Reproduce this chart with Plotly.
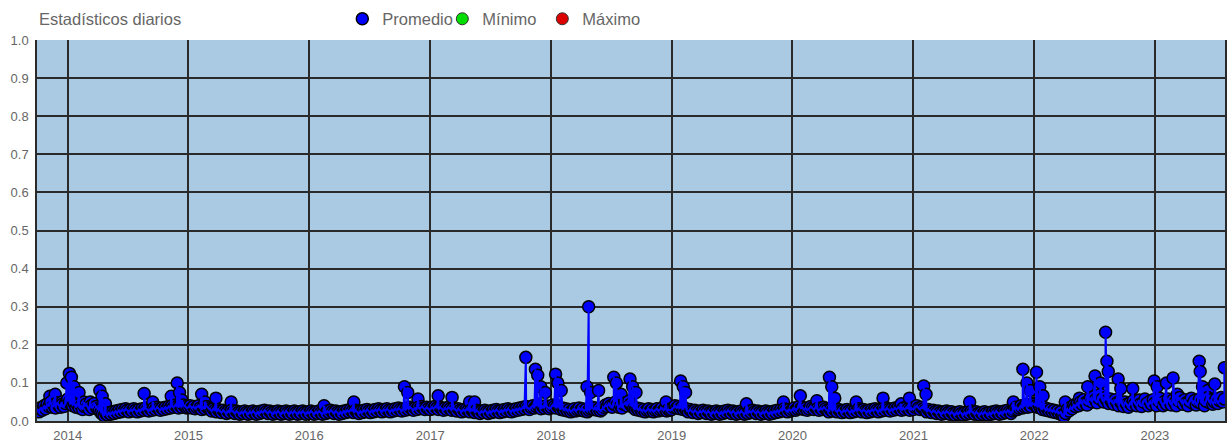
import pandas as pd
import plotly.graph_objects as go

# Daily average read every 5 days, one list per year
base_2013 = [0.030, 0.024, 0.035, 0.028, 0.040, 0.032, 0.045, 0.038, 0.050, 0.036,
             0.042, 0.034, 0.048, 0.040, 0.036, 0.044, 0.038, 0.046, 0.052]
base_2014 = [0.058, 0.050, 0.044, 0.040, 0.046, 0.036, 0.042, 0.034, 0.040, 0.030, 0.038, 0.044,
             0.036, 0.030, 0.040, 0.034, 0.046, 0.038, 0.032, 0.028, 0.022, 0.018, 0.014, 0.020,
             0.016, 0.022, 0.018, 0.024, 0.020, 0.026, 0.022, 0.028, 0.024, 0.030, 0.026, 0.032,
             0.028, 0.024, 0.030, 0.026, 0.032, 0.028, 0.024, 0.030, 0.026, 0.032, 0.028, 0.034,
             0.030, 0.026, 0.032, 0.028, 0.034, 0.030, 0.036, 0.032, 0.028, 0.034, 0.030, 0.036,
             0.032, 0.038, 0.034, 0.040, 0.036, 0.042, 0.038, 0.034, 0.040, 0.036, 0.042, 0.038,
             0.034]
base_2015 = [0.036, 0.040, 0.034, 0.038, 0.032, 0.036, 0.040, 0.034, 0.030, 0.036, 0.032, 0.038,
             0.034, 0.030, 0.026, 0.032, 0.028, 0.024, 0.030, 0.026, 0.022, 0.028, 0.024, 0.020,
             0.026, 0.022, 0.028, 0.024, 0.020, 0.026, 0.022, 0.018, 0.024, 0.020, 0.026, 0.022,
             0.018, 0.024, 0.020, 0.026, 0.022, 0.018, 0.024, 0.020, 0.026, 0.022, 0.028, 0.024,
             0.020, 0.026, 0.022, 0.018, 0.024, 0.020, 0.026, 0.022, 0.018, 0.024, 0.020, 0.026,
             0.022, 0.018, 0.024, 0.020, 0.026, 0.022, 0.018, 0.024, 0.020, 0.026, 0.022, 0.018,
             0.024]
base_2016 = [0.020, 0.026, 0.022, 0.018, 0.024, 0.020, 0.026, 0.022, 0.018, 0.024, 0.020, 0.026,
             0.022, 0.028, 0.024, 0.020, 0.026, 0.022, 0.018, 0.024, 0.020, 0.026, 0.022, 0.028,
             0.024, 0.030, 0.026, 0.022, 0.028, 0.024, 0.020, 0.026, 0.022, 0.028, 0.024, 0.030,
             0.026, 0.022, 0.028, 0.024, 0.030, 0.026, 0.032, 0.028, 0.024, 0.030, 0.026, 0.032,
             0.028, 0.024, 0.030, 0.026, 0.032, 0.028, 0.034, 0.030, 0.026, 0.032, 0.028, 0.034,
             0.030, 0.036, 0.032, 0.028, 0.034, 0.030, 0.036, 0.032, 0.038, 0.034, 0.030, 0.036,
             0.032]
base_2017 = [0.030, 0.036, 0.032, 0.038, 0.034, 0.030, 0.036, 0.032, 0.028, 0.034, 0.030, 0.036,
             0.032, 0.028, 0.034, 0.030, 0.026, 0.032, 0.028, 0.024, 0.030, 0.026, 0.032, 0.028,
             0.024, 0.030, 0.026, 0.022, 0.028, 0.024, 0.020, 0.026, 0.022, 0.028, 0.024, 0.020,
             0.026, 0.022, 0.028, 0.024, 0.030, 0.026, 0.022, 0.028, 0.024, 0.030, 0.026, 0.032,
             0.028, 0.024, 0.030, 0.026, 0.032, 0.028, 0.034, 0.030, 0.036, 0.032, 0.038, 0.034,
             0.030, 0.036, 0.040, 0.034, 0.038, 0.044, 0.036, 0.032, 0.038, 0.034, 0.040, 0.036,
             0.032]
base_2018 = [0.036, 0.042, 0.038, 0.034, 0.040, 0.036, 0.030, 0.034, 0.028, 0.032, 0.026, 0.030,
             0.024, 0.028, 0.032, 0.026, 0.030, 0.034, 0.028, 0.032, 0.026, 0.030, 0.024, 0.028,
             0.032, 0.036, 0.030, 0.034, 0.028, 0.032, 0.026, 0.030, 0.036, 0.042, 0.038, 0.046,
             0.040, 0.036, 0.044, 0.050, 0.042, 0.036, 0.040, 0.034, 0.044, 0.048, 0.040, 0.052,
             0.044, 0.038, 0.034, 0.030, 0.034, 0.028, 0.032, 0.026, 0.030, 0.024, 0.028, 0.032,
             0.026, 0.030, 0.024, 0.028, 0.032, 0.026, 0.030, 0.034, 0.028, 0.032, 0.026, 0.030,
             0.028]
base_2019 = [0.030, 0.036, 0.040, 0.034, 0.038, 0.032, 0.036, 0.030, 0.034, 0.028, 0.024, 0.030,
             0.026, 0.022, 0.028, 0.024, 0.020, 0.026, 0.022, 0.028, 0.024, 0.020, 0.026, 0.022,
             0.018, 0.024, 0.020, 0.026, 0.022, 0.018, 0.024, 0.020, 0.026, 0.022, 0.028, 0.024,
             0.020, 0.026, 0.022, 0.018, 0.024, 0.020, 0.026, 0.022, 0.018, 0.024, 0.020, 0.026,
             0.022, 0.028, 0.024, 0.020, 0.026, 0.022, 0.018, 0.024, 0.020, 0.026, 0.022, 0.018,
             0.024, 0.020, 0.026, 0.022, 0.028, 0.024, 0.030, 0.026, 0.032, 0.028, 0.024, 0.030,
             0.026]
base_2020 = [0.030, 0.034, 0.028, 0.032, 0.038, 0.032, 0.036, 0.030, 0.034, 0.028, 0.032, 0.038,
             0.034, 0.030, 0.036, 0.032, 0.028, 0.034, 0.030, 0.036, 0.032, 0.028, 0.024, 0.030,
             0.026, 0.032, 0.028, 0.024, 0.030, 0.026, 0.022, 0.028, 0.024, 0.030, 0.026, 0.022,
             0.028, 0.024, 0.030, 0.026, 0.032, 0.028, 0.024, 0.030, 0.026, 0.022, 0.028, 0.024,
             0.030, 0.026, 0.032, 0.028, 0.024, 0.030, 0.026, 0.032, 0.028, 0.034, 0.030, 0.026,
             0.032, 0.028, 0.034, 0.030, 0.036, 0.032, 0.028, 0.034, 0.030, 0.036, 0.032, 0.028,
             0.034]
base_2021 = [0.030, 0.036, 0.040, 0.034, 0.030, 0.036, 0.032, 0.028, 0.024, 0.030, 0.026, 0.022,
             0.028, 0.024, 0.020, 0.026, 0.022, 0.018, 0.024, 0.020, 0.026, 0.022, 0.018, 0.024,
             0.020, 0.016, 0.022, 0.018, 0.024, 0.020, 0.016, 0.022, 0.018, 0.024, 0.020, 0.026,
             0.022, 0.018, 0.024, 0.020, 0.016, 0.022, 0.018, 0.024, 0.020, 0.016, 0.022, 0.018,
             0.024, 0.020, 0.026, 0.022, 0.018, 0.024, 0.020, 0.026, 0.022, 0.028, 0.024, 0.020,
             0.026, 0.030, 0.036, 0.030, 0.034, 0.040, 0.034, 0.038, 0.044, 0.036, 0.042, 0.038,
             0.046]
base_2022 = [0.044, 0.040, 0.036, 0.042, 0.034, 0.030, 0.036, 0.028, 0.032, 0.026, 0.030, 0.024,
             0.028, 0.022, 0.026, 0.020, 0.024, 0.016, 0.012, 0.020, 0.030, 0.026, 0.036, 0.032,
             0.042, 0.038, 0.046, 0.040, 0.050, 0.044, 0.056, 0.048, 0.042, 0.054, 0.060, 0.050,
             0.064, 0.056, 0.048, 0.060, 0.070, 0.058, 0.050, 0.062, 0.054, 0.046, 0.058, 0.050,
             0.044, 0.056, 0.048, 0.040, 0.052, 0.046, 0.038, 0.050, 0.044, 0.036, 0.048, 0.042,
             0.054, 0.046, 0.040, 0.052, 0.044, 0.038, 0.050, 0.058, 0.046, 0.040, 0.052, 0.044,
             0.056]
base_2023 = [0.048, 0.040, 0.054, 0.060, 0.046, 0.040, 0.052, 0.044, 0.058, 0.050, 0.042, 0.056,
             0.048, 0.040, 0.054, 0.062, 0.050, 0.044, 0.056, 0.048, 0.040, 0.052, 0.060, 0.046,
             0.054, 0.042, 0.050, 0.058, 0.046, 0.054, 0.040, 0.052, 0.062, 0.048, 0.056, 0.044,
             0.050, 0.058, 0.046, 0.054, 0.062, 0.050, 0.058]

# Days with notably high averages
peak_dates = [
    "2013-11-08", "2013-11-24", "2013-12-14", "2013-12-29", "2014-01-06", "2014-01-12",
    "2014-01-20", "2014-02-04", "2014-02-19", "2014-03-10", "2014-04-08", "2014-04-15",
    "2014-04-25", "2014-08-20", "2014-09-15", "2014-11-10", "2014-11-28", "2014-12-05",
    "2014-12-12", "2015-02-10", "2015-02-20", "2015-03-25", "2015-05-10", "2016-02-15",
    "2016-05-15", "2016-10-15", "2016-10-25", "2016-11-25", "2017-01-25", "2017-03-08",
    "2017-04-30", "2017-05-15", "2017-10-17", "2017-11-15", "2017-11-22", "2017-12-01",
    "2017-12-15", "2018-01-15", "2018-01-22", "2018-02-01", "2018-04-20", "2018-04-25",
    "2018-05-01", "2018-05-25", "2018-07-10", "2018-07-18", "2018-08-01", "2018-08-28",
    "2018-09-05", "2018-09-15", "2018-12-15", "2019-01-28", "2019-02-05", "2019-02-12",
    "2019-08-15", "2019-12-05", "2020-01-25", "2020-03-15", "2020-04-22", "2020-04-29",
    "2020-05-08", "2020-07-12", "2020-10-01", "2020-11-25", "2020-12-20", "2021-02-01",
    "2021-02-08", "2021-06-20", "2021-10-30", "2021-11-28", "2021-12-10", "2021-12-20",
    "2022-01-08", "2022-01-18", "2022-01-28", "2022-04-05", "2022-05-18", "2022-06-12",
    "2022-07-04", "2022-07-20", "2022-08-05", "2022-08-09", "2022-08-13", "2022-09-12",
    "2022-09-20", "2022-10-26", "2022-11-15", "2022-12-30", "2023-01-08", "2023-02-05",
    "2023-02-25", "2023-03-10", "2023-05-15", "2023-05-18", "2023-05-25", "2023-06-10",
    "2023-07-01", "2023-07-30",
]
peak_values = [
    0.065, 0.070, 0.050, 0.100, 0.125, 0.115,
    0.090, 0.075, 0.050, 0.050, 0.080, 0.065,
    0.045, 0.072, 0.050, 0.065, 0.100, 0.075,
    0.055, 0.070, 0.050, 0.060, 0.050, 0.040,
    0.050, 0.090, 0.075, 0.058, 0.066, 0.062,
    0.050, 0.050, 0.167, 0.136, 0.120, 0.090,
    0.075, 0.123, 0.100, 0.080, 0.090, 0.300,
    0.075, 0.080, 0.115, 0.100, 0.070, 0.110,
    0.090, 0.075, 0.050, 0.105, 0.090, 0.075,
    0.045, 0.050, 0.066, 0.053, 0.115, 0.090,
    0.060, 0.050, 0.060, 0.045, 0.060, 0.092,
    0.070, 0.050, 0.050, 0.136, 0.100, 0.080,
    0.128, 0.090, 0.066, 0.050, 0.060, 0.090,
    0.118, 0.100, 0.233, 0.157, 0.130, 0.110,
    0.085, 0.085, 0.055, 0.105, 0.090, 0.100,
    0.113, 0.070, 0.157, 0.130, 0.090, 0.080,
    0.097, 0.140,
]

yearly = [
    ("2013-10-01", base_2013), ("2014-01-01", base_2014), ("2015-01-01", base_2015),
    ("2016-01-01", base_2016), ("2017-01-01", base_2017), ("2018-01-01", base_2018),
    ("2019-01-01", base_2019), ("2020-01-01", base_2020), ("2021-01-01", base_2021),
    ("2022-01-01", base_2022), ("2023-01-01", base_2023),
]
frames = [pd.DataFrame({"fecha": pd.date_range(start, periods=len(v), freq="5D"), "valor": v})
          for start, v in yearly]
frames.append(pd.DataFrame({"fecha": pd.to_datetime(peak_dates), "valor": peak_values}))
serie = pd.concat(frames).sort_values("fecha").reset_index(drop=True)

font_family = "Arial, Liberation Sans, sans-serif"
grey = "#666666"

fig = go.Figure()
fig.add_trace(go.Scatter(
    x=serie["fecha"], y=serie["valor"], mode="markers", name="Promedio",
    marker=dict(size=12, color="#0000ff", line=dict(color="#000000", width=1.5)),
))
fig.add_trace(go.Scatter(
    x=serie["fecha"], y=serie["valor"], mode="lines", showlegend=False,
    line=dict(color="#0000ff", width=2),
))
fig.add_trace(go.Scatter(
    x=[None], y=[None], mode="markers", name="Mínimo",
    marker=dict(size=12, color="#00dd00", line=dict(color="#333333", width=1)),
))
fig.add_trace(go.Scatter(
    x=[None], y=[None], mode="markers", name="Máximo",
    marker=dict(size=12, color="#dd0000", line=dict(color="#333333", width=1)),
))

fig.update_layout(
    width=1227, height=443,
    margin=dict(l=37, r=0, t=40, b=21),
    paper_bgcolor="#ffffff", plot_bgcolor="#a9cae2",
    font=dict(family=font_family, size=13, color=grey),
    showlegend=True,
    legend=dict(orientation="h", x=0.257, xanchor="left", y=1.055, yanchor="middle",
                font=dict(size=16.5, color=grey), entrywidth=55, bgcolor="rgba(0,0,0,0)",
                itemclick=False, itemdoubleclick=False),
    annotations=[dict(text="Estadísticos diarios", xref="paper", yref="paper",
                      x=0, y=1.055, xanchor="left", yanchor="middle", showarrow=False,
                      font=dict(size=16.5, color=grey))],
    xaxis=dict(type="date", range=["2013-09-30", "2023-08-01"], dtick="M12",
               tick0="2014-01-01", tickformat="%Y", showgrid=True,
               gridcolor="#2a2a2a", gridwidth=1.5, zeroline=False,
               showline=True, linecolor="#2a2a2a", linewidth=1.5, ticks="",
               ticklabelstandoff=2, tickfont=dict(size=13, color=grey)),
    yaxis=dict(range=[0, 1], dtick=0.1, tickformat=".1f", showgrid=True,
               gridcolor="#2a2a2a", gridwidth=1.5, zeroline=False,
               showline=True, linecolor="#2a2a2a", linewidth=1.5, mirror=True,
               ticks="", ticklabelstandoff=4, tickfont=dict(size=13, color=grey)),
)

fig.write_html("out.html")
